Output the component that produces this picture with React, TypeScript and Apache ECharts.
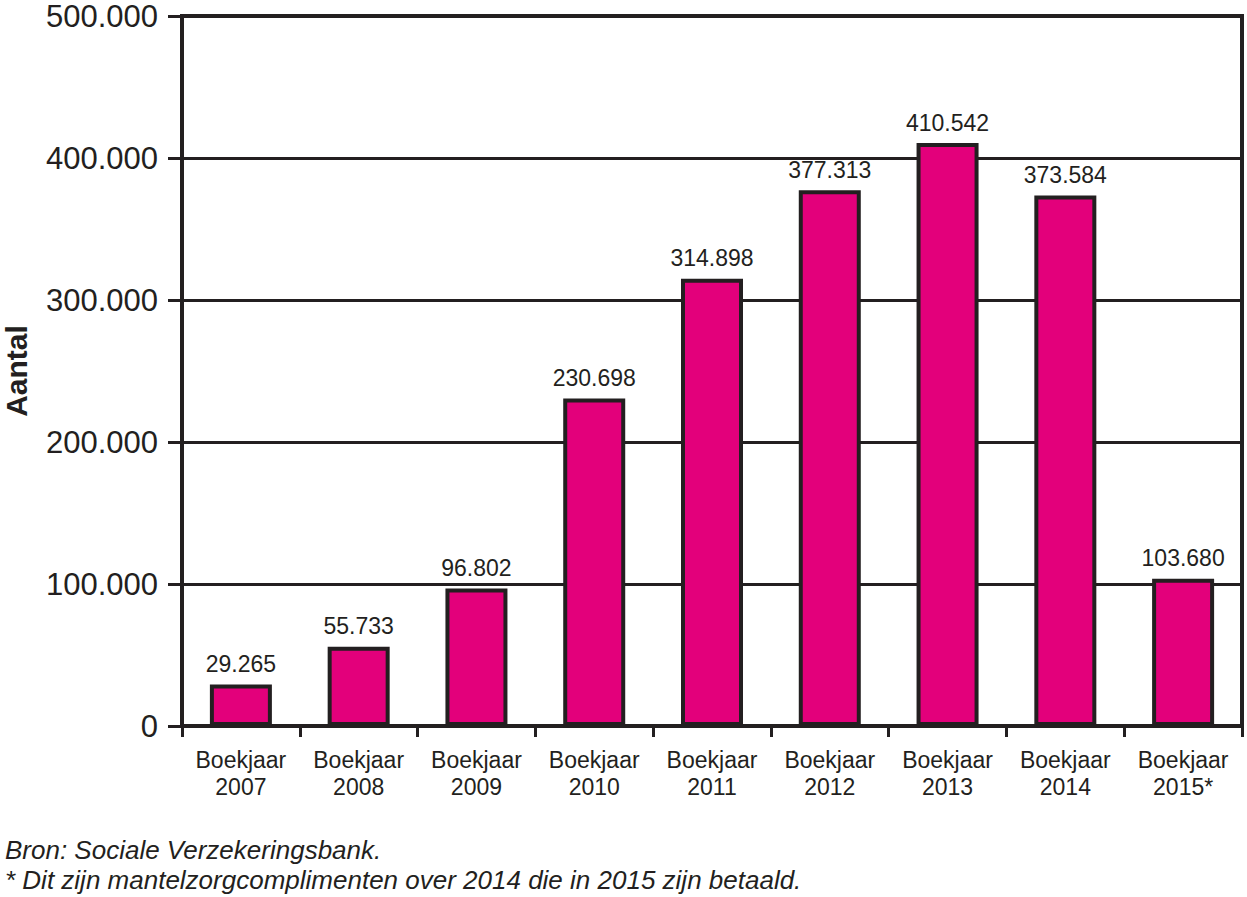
import React, { useEffect, useRef } from "react";
import * as echarts from "echarts";

const categories = [
  "Boekjaar\n2007",
  "Boekjaar\n2008",
  "Boekjaar\n2009",
  "Boekjaar\n2010",
  "Boekjaar\n2011",
  "Boekjaar\n2012",
  "Boekjaar\n2013",
  "Boekjaar\n2014",
  "Boekjaar\n2015*",
];
const values = [29265, 55733, 96802, 230698, 314898, 377313, 410542, 373584, 103680];
const yTitle = "Aantal";
const notes = [
  "Bron: Sociale Verzekeringsbank.",
  "* Dit zijn mantelzorgcomplimenten over 2014 die in 2015 zijn betaald.",
];

const DARK = "#231f20";
const MAGENTA = "#e3007b";
const FONT = "'Liberation Sans', Arial, Helvetica, sans-serif";

const fmt = (v: number) => String(v).replace(/\B(?=(\d{3})+(?!\d))/g, ".");

export default function App() {
  const ref = useRef<HTMLDivElement>(null);
  useEffect(() => {
    if (!ref.current) return;
    const chart = echarts.init(ref.current, undefined, { renderer: "svg" });
    chart.setOption({
      animation: false,
      backgroundColor: "#ffffff",
      textStyle: { fontFamily: FONT, color: DARK },
      grid: {
        left: 182,
        right: 5,
        top: 16,
        bottom: 171,
        show: true,
        borderColor: DARK,
        borderWidth: 4,
        containLabel: false,
        outerBoundsMode: "none",
      },
      xAxis: {
        type: "category",
        data: categories,
        boundaryGap: true,
        axisLine: { show: true, lineStyle: { color: DARK, width: 4 } },
        axisTick: { show: true, interval: 0, length: 11, lineStyle: { color: DARK, width: 3 } },
        axisLabel: {
          interval: 0,
          margin: 20,
          fontSize: 23,
          lineHeight: 27,
          color: DARK,
          fontFamily: FONT,
        },
        splitLine: { show: false },
      },
      yAxis: {
        type: "value",
        min: 0,
        max: 500000,
        interval: 100000,
        name: yTitle,
        nameLocation: "middle",
        nameGap: 151,
        nameRotate: 90,
        nameTextStyle: {
          fontSize: 30,
          lineHeight: 30,
          fontWeight: "bold",
          color: DARK,
          fontFamily: FONT,
        },
        axisLine: { show: true, lineStyle: { color: DARK, width: 4 } },
        axisTick: { show: true, length: 14, lineStyle: { color: DARK, width: 3 } },
        axisLabel: {
          margin: 24,
          fontSize: 31,
          lineHeight: 28,
          color: DARK,
          fontFamily: FONT,
          formatter: (v: number) => fmt(v),
        },
        splitLine: { show: true, lineStyle: { color: DARK, width: 3 } },
      },
      series: [
        {
          type: "bar",
          data: values,
          barWidth: 62,
          itemStyle: { color: MAGENTA, borderColor: DARK, borderWidth: 4 },
          label: {
            show: true,
            position: "top",
            distance: 9,
            fontSize: 23,
            color: DARK,
            fontFamily: FONT,
            formatter: (p: any) => fmt(p.value),
          },
        },
      ],
      graphic: notes.map((t, i) => ({
        type: "text",
        left: 5,
        top: 837 + i * 30,
        style: {
          text: t,
          fontSize: 26,
          fontStyle: "italic",
          fill: DARK,
          fontFamily: FONT,
        },
      })),
    });
    return () => chart.dispose();
  }, []);
  return (
    <div
      ref={ref}
      style={{ position: "fixed", left: 0, top: 0, width: 1247, height: 897 }}
    />
  );
}
